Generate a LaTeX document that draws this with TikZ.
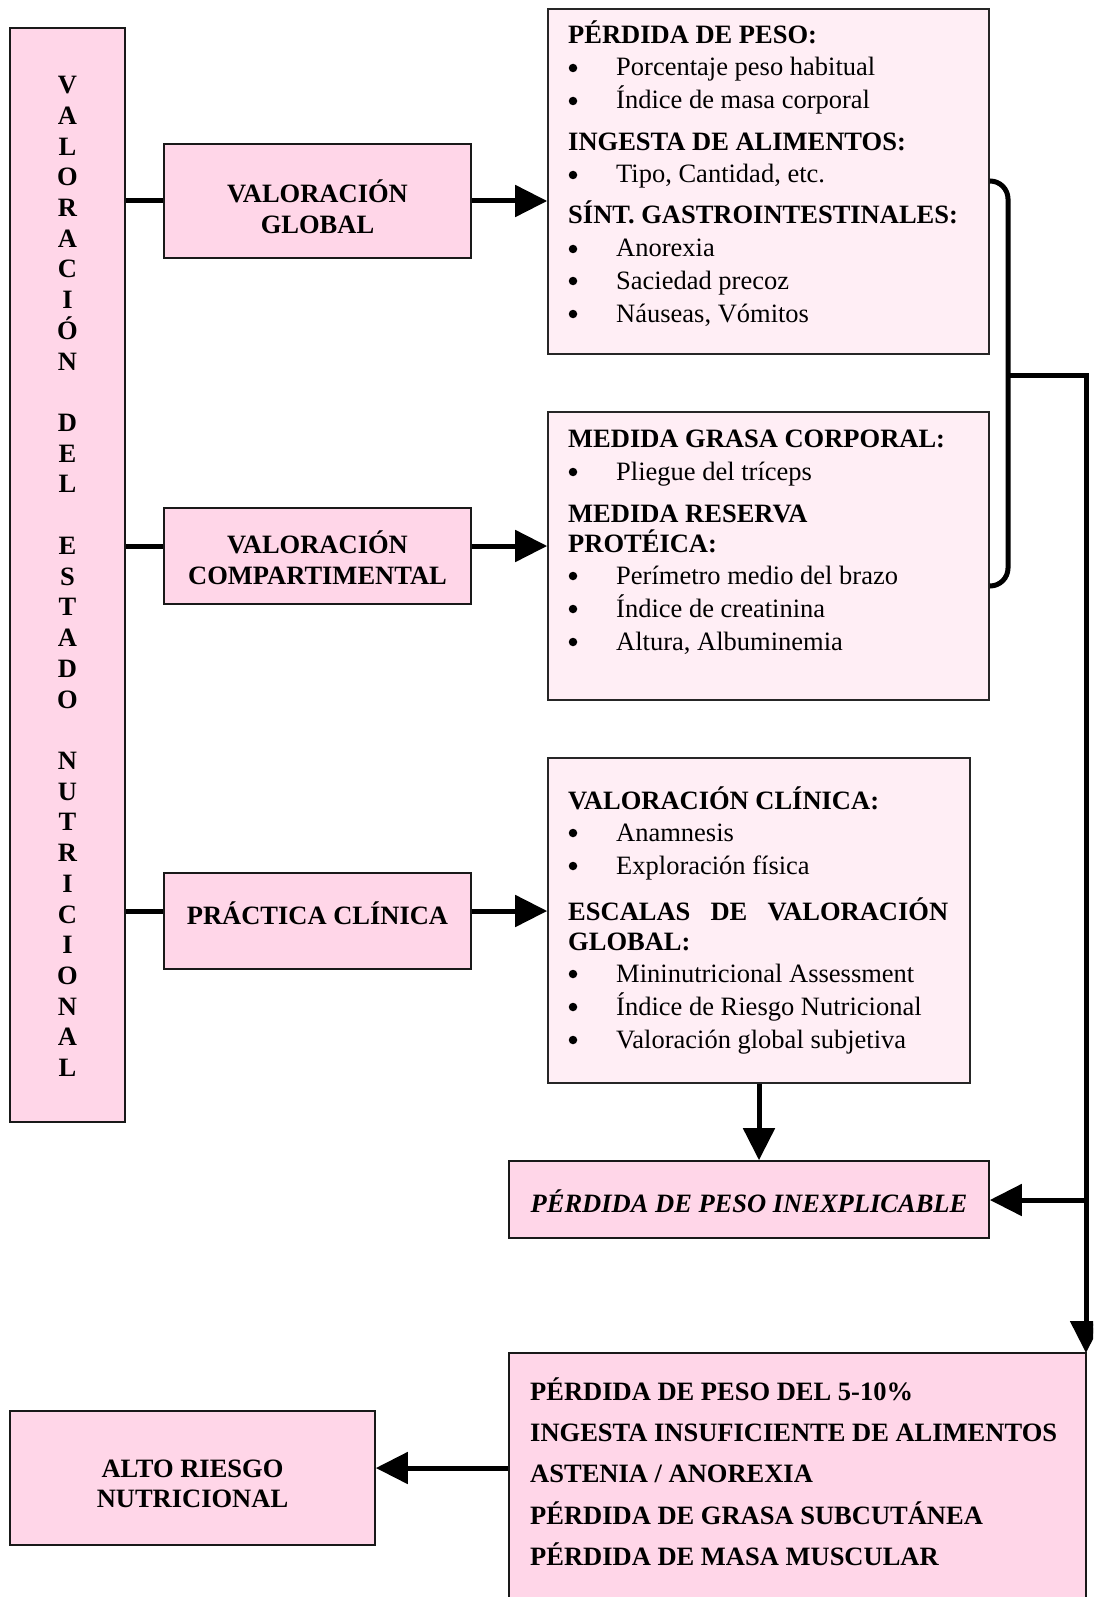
\documentclass[tikz,border=0pt]{standalone}
\usepackage{fontspec}
\setmainfont{Liberation Serif}
\usetikzlibrary{arrows.meta}
\definecolor{boxpink}{HTML}{FFD6E8}
\definecolor{listpink}{HTML}{FFEEF5}

\begin{document}
\begin{tikzpicture}[x=1pt,y=-1pt,
  box/.style={draw=black!90, line width=1.6pt, fill=boxpink, inner sep=0pt},
  listbox/.style={draw=black!85, line width=1.6pt, fill=listpink, inner sep=0pt},
  lbl/.style={anchor=base, inner sep=0pt, font=\fontsize{26.5}{31}\selectfont\bfseries},
  hd/.style={anchor=base west, inner sep=0pt, font=\fontsize{26.5}{31}\selectfont\bfseries},
  item/.style={anchor=base west, inner sep=0pt, font=\fontsize{26.5}{31}\selectfont},
  dot/.style={circle, fill=black, inner sep=0pt, minimum size=8.5pt},
  conn/.style={line width=5pt, black},
  tip/.style={-{Triangle[length=32pt,width=31pt]}}
]
% one bulleted list line: name, baseline, text
\def\bul#1#2#3{%
  \node[dot] (#1d) at (573,#2-8) {};
  \node[item] (#1) at (616,#2) {#3};}

\path[use as bounding box] (0,0) rectangle (1093,1597);
\clip (0,0) rectangle (1093,1597);

% ---------- boxes ----------
\node[box, minimum width=115pt, minimum height=1094pt] (LB) at (67.5,575) {};
\node[box, minimum width=307pt, minimum height=114pt] (VG) at (317.5,201) {};
\node[box, minimum width=307pt, minimum height=96pt] (VC) at (317.5,556) {};
\node[box, minimum width=307pt, minimum height=96pt] (PC) at (317.5,921) {};
\node[listbox, minimum width=441pt, minimum height=345pt] (B1) at (768.5,181.5) {};
\node[listbox, minimum width=441pt, minimum height=288pt] (B2) at (768.5,556) {};
\node[listbox, minimum width=422pt, minimum height=325pt] (B3) at (759,920.5) {};
\node[box, minimum width=480pt, minimum height=77pt] (PI) at (749,1199.5) {};
\node[box, minimum width=577pt, minimum height=267pt] (RB) at (797.5,1486.5) {};
\node[box, minimum width=365pt, minimum height=134pt] (AR) at (192.5,1478) {};

% ---------- vertical title ----------
\foreach \c [count=\i] in {V,A,L,O,R,A,C,I,Ó,N,{},D,E,L,{},E,S,T,A,D,O,{},N,U,T,R,I,C,I,O,N,A,L}
  \node[lbl] (lt\i) at (67.5,{93.6+(\i-1)*30.72}) {\c};

% ---------- box labels ----------
\node[lbl] (vg1) at (317.5,203) {VALORACIÓN};
\node[lbl] (vg2) at (317.5,234) {GLOBAL};
\node[lbl] (vc1) at (317.5,553) {VALORACIÓN};
\node[lbl] (vc2) at (317.5,584) {COMPARTIMENTAL};
\node[lbl] (pc1) at (317.5,924) {PRÁCTICA CLÍNICA};
\node[lbl, font=\fontsize{26.5}{31}\selectfont\bfseries\itshape] (pi1) at (749,1212) {PÉRDIDA DE PESO INEXPLICABLE};
\node[lbl] (ar1) at (192.5,1477) {ALTO RIESGO};
\node[lbl] (ar2) at (192.5,1507) {NUTRICIONAL};

% ---------- list box 1 ----------
\node[hd] (b1h1) at (568,44) {PÉRDIDA DE PESO:};
\bul{b1i1}{76}{Porcentaje peso habitual}
\bul{b1i2}{109}{Índice de masa corporal}
\node[hd] (b1h2) at (568,151) {INGESTA DE ALIMENTOS:};
\bul{b1i3}{183}{Tipo, Cantidad, etc.}
\node[hd] (b1h3) at (568,224) {SÍNT. GASTROINTESTINALES:};
\bul{b1i4}{257}{Anorexia}
\bul{b1i5}{289}{Saciedad precoz}
\bul{b1i6}{322}{Náuseas, Vómitos}

% ---------- list box 2 ----------
\node[hd] (b2h1) at (568,447) {MEDIDA GRASA CORPORAL:};
\bul{b2i1}{480}{Pliegue del tríceps}
\node[hd] (b2h2) at (568,522) {MEDIDA RESERVA};
\node[hd] (b2h3) at (568,552) {PROTÉICA:};
\bul{b2i2}{584}{Perímetro medio del brazo}
\bul{b2i3}{617}{Índice de creatinina}
\bul{b2i4}{650}{Altura, Albuminemia}

% ---------- list box 3 ----------
\node[hd] (b3h1) at (568,809) {VALORACIÓN CLÍNICA:};
\bul{b3i1}{841}{Anamnesis}
\bul{b3i2}{874}{Exploración física}
\node[hd] (b3h2) at (568,920) {\makebox[380pt][s]{ESCALAS\hfill DE\hfill VALORACIÓN}};
\node[hd] (b3h3) at (568,950) {GLOBAL:};
\bul{b3i3}{982}{Mininutricional Assessment}
\bul{b3i4}{1015}{Índice de Riesgo Nutricional}
\bul{b3i5}{1048}{Valoración global subjetiva}

% ---------- result box ----------
\node[hd] (rb1) at (530,1400) {PÉRDIDA DE PESO DEL 5-10\%};
\node[hd] (rb2) at (530,1441) {INGESTA INSUFICIENTE DE ALIMENTOS};
\node[hd] (rb3) at (530,1482) {ASTENIA / ANOREXIA};
\node[hd] (rb4) at (530,1524) {PÉRDIDA DE GRASA SUBCUTÁNEA};
\node[hd] (rb5) at (530,1565) {PÉRDIDA DE MASA MUSCULAR};

% ---------- connectors ----------
\draw[conn] (LB.east |- VG.west) -- (VG.west);
\draw[conn, tip] (VG.east) -- (VG.east -| B1.west);
\draw[conn] (LB.east |- 0,546) -- (VC.west |- 0,546);
\draw[conn, tip] (VC.east |- 0,546) -- (B2.west |- 0,546);
\draw[conn] (LB.east |- 0,911) -- (PC.west |- 0,911);
\draw[conn, tip] (PC.east |- 0,911) -- (B3.west |- 0,911);

% bracket joining the two upper lists
\coordinate (J) at (1008,375);
\draw[conn, rounded corners=18pt] (B1.east |- 0,181) -- (J |- 0,181) -- (J |- 0,586) -- (B2.east |- 0,586);
\draw[conn, tip] (J) -- (J -| 1086,0) -- (1086,1353);
\draw[conn, tip] (1086,1200) -- (PI.east |- 0,1200);
\draw[conn, tip] (B3.south) -- (B3.south |- PI.north);
\draw[conn, tip] (RB.west |- 0,1468) -- (AR.east |- 0,1468);
\end{tikzpicture}
\end{document}
